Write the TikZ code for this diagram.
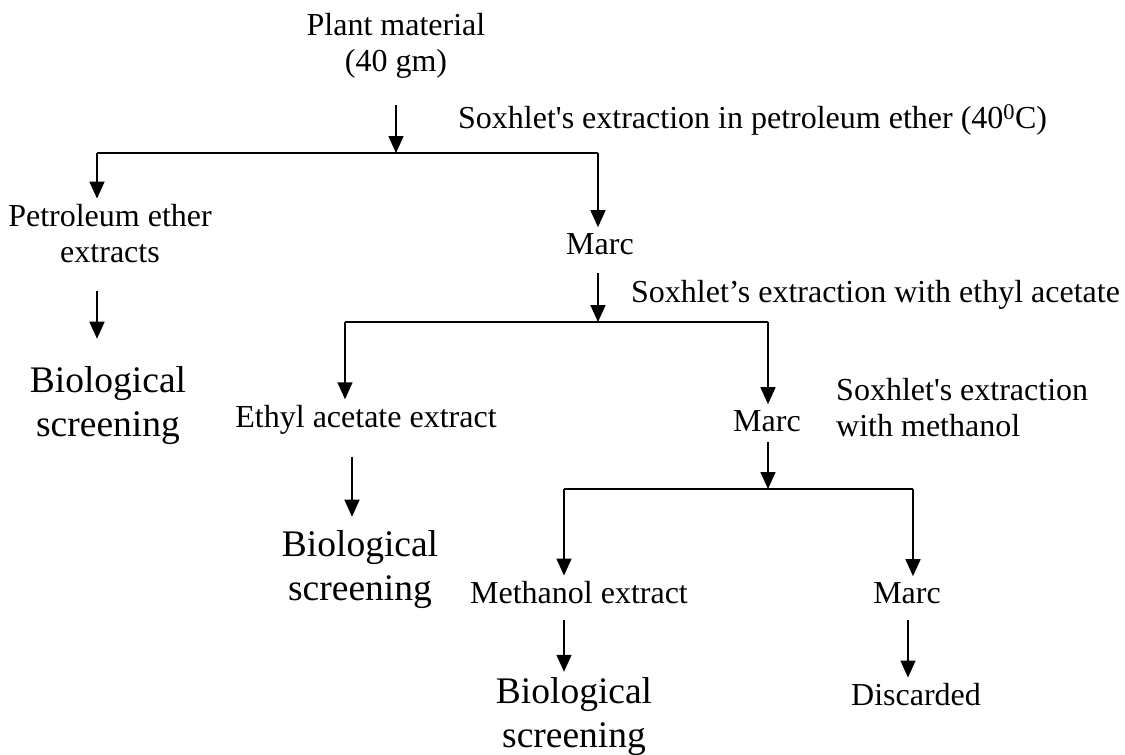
\documentclass[tikz,border=0pt]{standalone}
\usepackage{fontspec}
\setmainfont{Liberation Serif}
\usetikzlibrary{arrows.meta,positioning}
\begin{document}
\begin{tikzpicture}[
    x=1pt,y=-1pt,
    txt/.style={align=center,inner sep=6pt,font=\fontsize{32}{36}\selectfont},
    big/.style={align=center,inner sep=6pt,font=\fontsize{37.5}{44}\selectfont},
    note/.style={anchor=west,align=left,inner sep=0pt,font=\fontsize{32}{36}\selectfont},
    arr/.style={-{Triangle[length=17pt,width=15pt]},line width=1.6pt},
    bar/.style={line width=1.6pt}
  ]
    \useasboundingbox (0,0) rectangle (1125,755);
    % first extraction
    \node[txt] (plant) at (396,46) {Plant material\\(40 gm)};
    \coordinate (b1) at (396,153);
    \coordinate (b1l) at (97,153);
    \coordinate (b1r) at (598,153);
    \node[note] (sox1) at (458,120) {Soxhlet\textquotesingle s extraction in petroleum ether (40\textsuperscript{0}C)};
    \node[txt] (pet) at (110,234) {Petroleum ether\\extracts};
    \node[txt] (marc1) at (600,244) {Marc};
    \node[big] (bio1) at (108,406) {Biological\\screening};
    \draw[arr,shorten <=20pt] (plant) -- (b1);
    \draw[bar] (b1l) -- (b1r);
    \draw[arr] (b1l) -- (b1l |- pet.north);
    \draw[arr] (b1r) -- (b1r |- marc1.north);
    \draw[arr,shorten <=22pt,shorten >=22pt] (pet.south -| b1l) -- (bio1.north -| b1l);
    % second extraction
    \coordinate (b2) at (598,322);
    \coordinate (b2l) at (345,322);
    \coordinate (b2r) at (768,322);
    \node[note] (sox2) at (631,295) {Soxhlet’s extraction with ethyl acetate};
    \node[txt] (eth) at (366,420) {Ethyl acetate extract};
    \node[txt] (marc2) at (767,421) {Marc};
    \node[note] (sox3) at (836,408) {Soxhlet\textquotesingle s extraction\\with methanol};
    \node[big] (bio2) at (360,570) {Biological\\screening};
    \draw[arr,shorten <=12pt] (marc1.south -| b2) -- (b2);
    \draw[bar] (b2l) -- (b2r);
    \draw[arr] (b2l) -- (b2l |- eth.north);
    \draw[arr] (b2r) -- (b2r |- marc2.north);
    \draw[arr,shorten <=16pt,shorten >=8pt] ([xshift=-14pt]eth.south) -- ([xshift=-14pt]eth.south |- bio2.north);
    % third extraction
    \coordinate (b3) at (768,489);
    \coordinate (b3l) at (564,489);
    \coordinate (b3r) at (913,489);
    \node[txt] (meth) at (579,593) {Methanol extract};
    \node[txt] (marc3) at (907,593) {Marc};
    \node[big] (bio3) at (574,717) {Biological\\screening};
    \node[txt] (disc) at (916,695) {Discarded};
    \draw[arr,shorten <=4pt] (marc2.south -| b3) -- (b3);
    \draw[bar] (b3l) -- (b3r);
    \draw[arr] (b3l) -- (b3l |- meth.north);
    \draw[arr] (b3r) -- (b3r |- marc3.north);
    \draw[arr,shorten <=10pt] (meth.south -| b3l) -- (bio3.north -| b3l);
    \draw[arr,shorten <=10pt] ([xshift=1pt]marc3.south) -- ([xshift=1pt]marc3.south |- disc.north);
  \end{tikzpicture}
\end{document}
